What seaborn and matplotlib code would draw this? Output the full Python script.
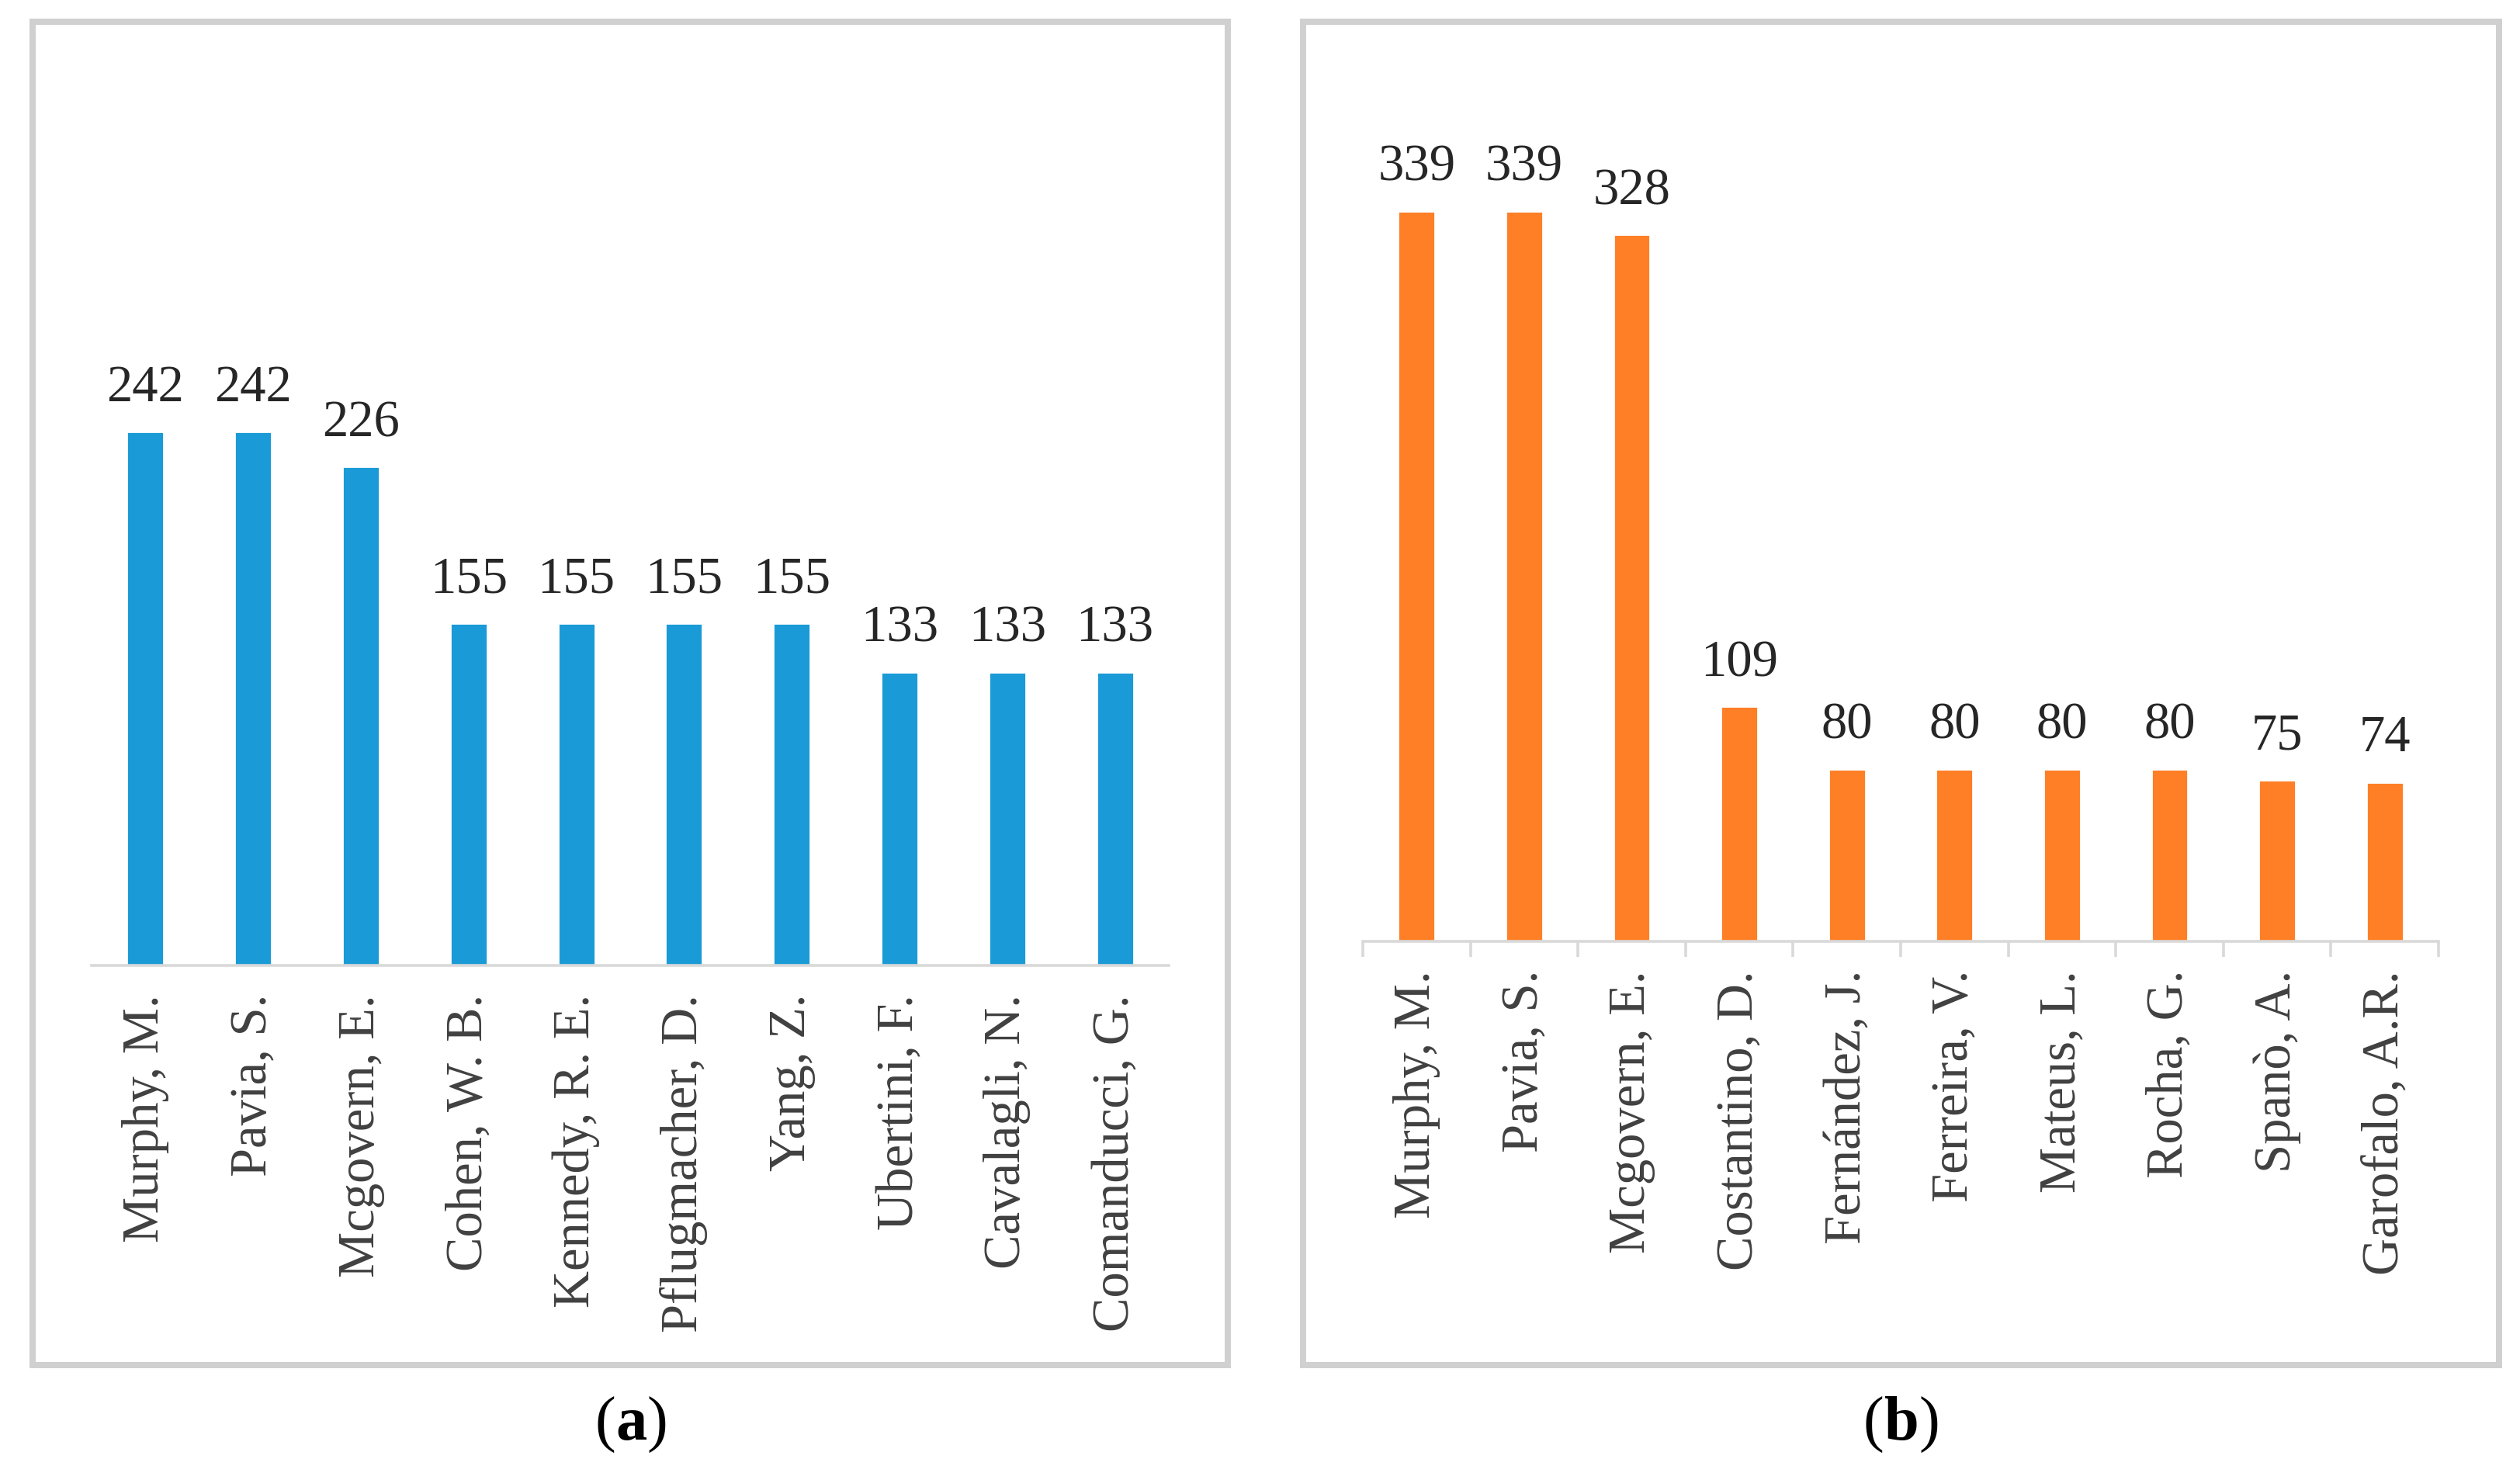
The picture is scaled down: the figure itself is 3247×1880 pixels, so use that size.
import matplotlib
matplotlib.use("Agg")
import matplotlib.pyplot as plt
import seaborn as sns
import pandas as pd
from matplotlib.patches import Rectangle

# ---- data ----
authors_a = ["Murphy, M.", "Pavia, S.", "Mcgovern, E.", "Cohen, W. B.", "Kennedy, R. E.",
             "Pflugmacher, D.", "Yang, Z.", "Ubertini, F.", "Cavalagli, N.", "Comanducci, G."]
values_a = [242, 242, 226, 155, 155, 155, 155, 133, 133, 133]

authors_b = ["Murphy, M.", "Pavia, S.", "Mcgovern, E.", "Costantino, D.", "Fernández, J.",
             "Ferreira, V.", "Mateus, L.", "Rocha, G.", "Spanò, A.", "Garofalo, A.R."]
values_b = [339, 339, 328, 109, 80, 80, 80, 80, 75, 74]

captions = ["a", "b"]

sns.set_theme(style="white")
plt.rcParams['font.family'] = ['Liberation Serif', 'DejaVu Serif']

W, H = 3247, 1881
DPI = 200
fig = plt.figure(figsize=(W / DPI, H / DPI), dpi=DPI)
fig.patch.set_facecolor("white")


def fx(px):
    return px / W


def fy(py):
    return 1 - py / H


GRID = "#d9d9d9"
TICK_TXT = "#404040"
VAL_TXT = "#262626"

panels = [
    dict(names=authors_a, vals=values_a, color="#1A9BD7", x0=118, x1=1506, base=1245, ppu=2.843,
         ticks=False, frame=(42, 1582), cap_x=813),
    dict(names=authors_b, vals=values_b, color="#FF7F27", x0=1756, x1=3142, base=1214, ppu=2.776,
         ticks=True, frame=(1679, 3219.5), cap_x=2450),
]

top_px = 100
cap_texts = []
for p, cap in zip(panels, captions):
    ax = fig.add_axes([fx(p["x0"]), fy(p["base"]), fx(p["x1"] - p["x0"]), (p["base"] - top_px) / H])
    df = pd.DataFrame({"author": p["names"], "count": p["vals"]})
    sns.barplot(data=df, x="author", y="count", color=p["color"], width=0.345,
                saturation=1, ax=ax, errorbar=None)
    ax.set_xlim(-0.5, len(p["names"]) - 0.5)
    ax.set_ylim(0, (p["base"] - top_px) / p["ppu"])
    ax.set_xlabel("")
    ax.set_ylabel("")
    ax.set_yticks([])
    for s in ["top", "left", "right"]:
        ax.spines[s].set_visible(False)
    ax.spines["bottom"].set_color(GRID)
    ax.spines["bottom"].set_linewidth(1.3)
    ax.set_facecolor("none")
    ax.set_xticks(range(len(p["names"])))
    ax.set_xticklabels(p["names"], rotation=90, fontsize=24, color=TICK_TXT)
    ax.tick_params(axis="x", length=0, pad=13)
    if p["ticks"]:
        ax.set_xticks([i - 0.5 for i in range(len(p["names"]) + 1)], minor=True)
        ax.tick_params(axis="x", which="minor", length=7.2, width=1.3, color=GRID, bottom=True)
    for c in ax.containers:
        ax.bar_label(c, labels=[str(v) for v in p["vals"]], padding=9.5, fontsize=24, color=VAL_TXT)

    # panel frame
    l, r = p["frame"]
    rect = Rectangle((fx(l), fy(1760)), fx(r - l), (1760 - 28.5) / H, transform=fig.transFigure,
                     fill=False, edgecolor="#d0d0d0", linewidth=8 * 72 / DPI, zorder=-1)
    fig.add_artist(rect)

    # caption pieces: "(" regular + bold letter + ")" regular
    objs = []
    for s, wgt in [("(", "normal"), (cap, "bold"), (")", "normal")]:
        objs.append(fig.text(0, fy(1836), s, fontsize=29, fontweight=wgt,
                             ha="left", va="center", color="black"))
    cap_texts.append((p["cap_x"], objs))

fig.canvas.draw()
renderer = fig.canvas.get_renderer()
for cx, objs in cap_texts:
    widths = [t.get_window_extent(renderer).width for t in objs]
    x = cx - sum(widths) / 2
    for t, wdt in zip(objs, widths):
        t.set_x(fx(x))
        x += wdt

fig.savefig("out.png", dpi=DPI, facecolor="white")
